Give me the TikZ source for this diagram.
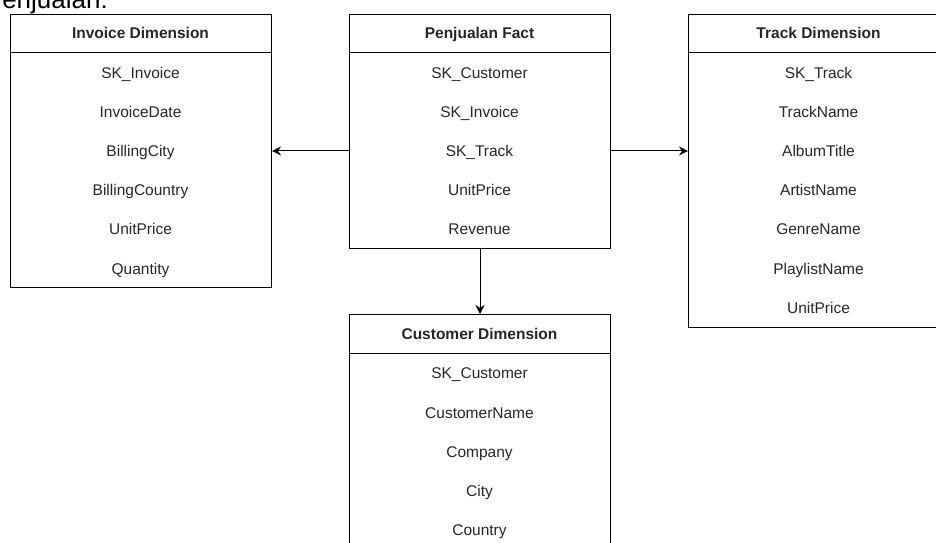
\documentclass[tikz,border=0pt]{standalone}
\usepackage{fontspec}
\setmainfont{Liberation Sans}
\usetikzlibrary{arrows.meta}
\definecolor{txt}{HTML}{262626}
\tikzset{
  tbl/.style={draw=black, line width=1pt, minimum width=261pt, inner sep=0pt, anchor=north west},
  hdr/.style={font=\fontsize{15.5pt}{18pt}\selectfont\bfseries, text=txt, inner sep=0pt, text height=11.2pt, text depth=0pt},
  fld/.style={font=\fontsize{15.5pt}{18pt}\selectfont, text=txt, inner sep=0pt, text height=11.2pt, text depth=0pt},
  arr/.style={draw=black, line width=1pt, -{Stealth[length=9pt,width=9pt,inset=3pt]}},
  sep/.style={draw=black, line width=1pt}
}
\begin{document}
\begin{tikzpicture}[x=1pt,y=-1pt]
\useasboundingbox (0,0) rectangle (936,542);
\clip (0,0) rectangle (936,542);
% title (clipped)
\node[font=\fontsize{26pt}{30pt}\selectfont, text=black, anchor=base east, inner sep=0pt] (title) at (108,8) {Penjualan:};
% boxes
\node[tbl, minimum height=273pt] (inv) at (10,14) {};
\node[tbl, minimum height=234pt] (fact) at (349,14) {};
\node[tbl, minimum height=313pt] (track) at (688,14) {};
\node[tbl, minimum height=240pt] (cust) at (349,314) {};
% header separators
\draw[sep] (10,52) -- (271,52);
\draw[sep] (349,52) -- (610,52);
\draw[sep] (688,52) -- (949,52);
\draw[sep] (349,353) -- (610,353);
% Invoice
\node[hdr] (ih) at (140.5,33.3) {Invoice Dimension};
\node[fld] (i1) at (140.5,72.5) {SK\_Invoice};
\node[fld] (i2) at (140.5,111.7) {InvoiceDate};
\node[fld] (i3) at (140.5,150.9) {BillingCity};
\node[fld] (i4) at (140.5,190.1) {BillingCountry};
\node[fld] (i5) at (140.5,229.3) {UnitPrice};
\node[fld] (i6) at (140.5,268.5) {Quantity};
% Fact
\node[hdr] (fh) at (479.5,33.3) {Penjualan Fact};
\node[fld] (f1) at (479.5,72.5) {SK\_Customer};
\node[fld] (f2) at (479.5,111.7) {SK\_Invoice};
\node[fld] (f3) at (479.5,150.9) {SK\_Track};
\node[fld] (f4) at (479.5,190.1) {UnitPrice};
\node[fld] (f5) at (479.5,229.3) {Revenue};
% Track
\node[hdr] (th) at (818.5,33.3) {Track Dimension};
\node[fld] (t1) at (818.5,72.5) {SK\_Track};
\node[fld] (t2) at (818.5,111.7) {TrackName};
\node[fld] (t3) at (818.5,150.9) {AlbumTitle};
\node[fld] (t4) at (818.5,190.1) {ArtistName};
\node[fld] (t5) at (818.5,229.3) {GenreName};
\node[fld] (t6) at (818.5,268.5) {PlaylistName};
\node[fld] (t7) at (818.5,307.7) {UnitPrice};
% Customer
\node[hdr] (ch) at (479.5,334.3) {Customer Dimension};
\node[fld] (c1) at (479.5,373.3) {SK\_Customer};
\node[fld] (c2) at (479.5,412.5) {CustomerName};
\node[fld] (c3) at (479.5,451.7) {Company};
\node[fld] (c4) at (479.5,490.9) {City};
\node[fld] (c5) at (479.5,530.1) {Country};
% connectors
\draw[arr] (f3 -| fact.west) -- (f3 -| inv.east);
\draw[arr] (f3 -| fact.east) -- (f3 -| track.west);
\draw[arr] (fact.south) -- (cust.north);
\end{tikzpicture}
\end{document}
